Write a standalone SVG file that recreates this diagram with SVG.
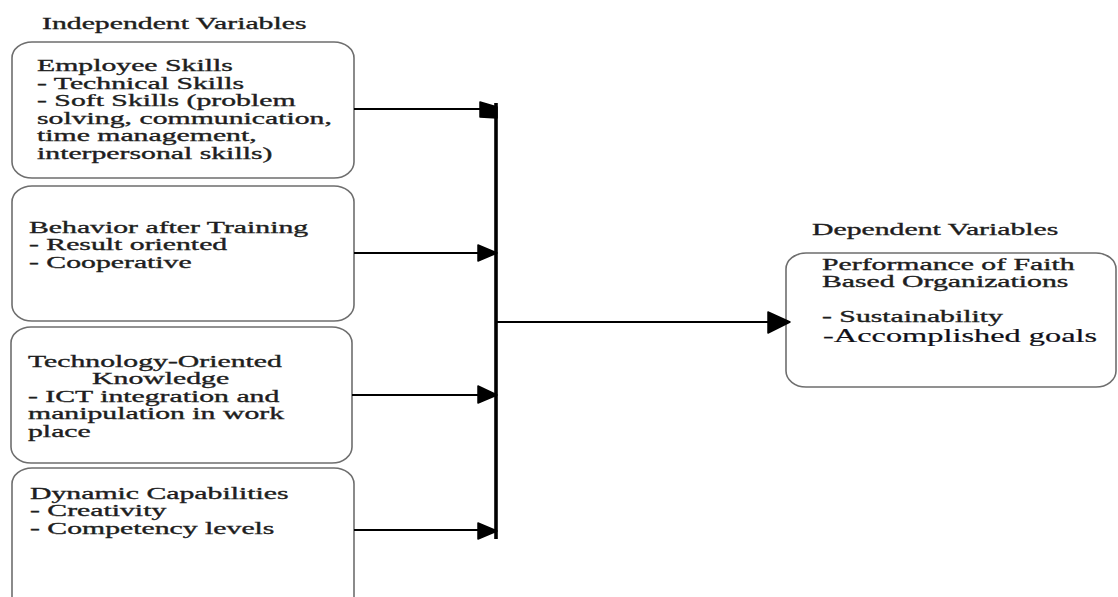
<svg xmlns="http://www.w3.org/2000/svg" width="1118" height="597" viewBox="0 0 1118 597">
<style>
.box{fill:#fff;stroke:#6e6e6e;stroke-width:1.6}
.t{font-family:"Liberation Serif","Times New Roman",serif;font-size:17px;fill:#1e1e1e;stroke:#1e1e1e;stroke-width:0.35}
.big{font-size:19.5px;fill:#101018;stroke:#101018;stroke-width:0.2}
.ln{stroke:#000;stroke-width:2.2;fill:none}
.bar{stroke:#000;stroke-width:3.6;fill:none}
.ah{fill:#000;stroke:#000;stroke-width:1.5;stroke-linejoin:round}
</style>
<rect width="1118" height="597" fill="#fff"/>
<text class="t" transform="translate(42,29) scale(1.75,1)">Independent Variables</text>
<text class="t" transform="translate(812,235) scale(1.75,1)">Dependent Variables</text>

<g id="node-employee-skills">
<rect class="box" x="12" y="42" width="342" height="136" rx="20" ry="16"/>
<text class="t" transform="translate(37,71) scale(1.75,1)"><tspan x="0" y="0">Employee Skills</tspan><tspan x="0" y="17.6">- Technical Skills</tspan><tspan x="0" y="35.2">- Soft Skills (problem</tspan><tspan x="0" y="52.8">solving, communication,</tspan><tspan x="0" y="70.4">time management,</tspan><tspan x="0" y="88">interpersonal skills)</tspan></text>
</g>

<g id="node-behavior">
<rect class="box" x="12" y="186" width="342" height="135" rx="20" ry="16"/>
<text class="t" transform="translate(29,233) scale(1.75,1)"><tspan x="0" y="0">Behavior after Training</tspan><tspan x="0" y="17.5">- Result oriented</tspan><tspan x="0" y="35">- Cooperative</tspan></text>
</g>

<g id="node-technology">
<rect class="box" x="11" y="327" width="341" height="136" rx="20" ry="16"/>
<text class="t" transform="translate(28,367) scale(1.75,1)"><tspan x="0" y="0">Technology-Oriented</tspan><tspan x="36.6" y="17.5">Knowledge</tspan><tspan x="0" y="35">- ICT integration and</tspan><tspan x="0" y="52.5">manipulation in work</tspan><tspan x="0" y="70">place</tspan></text>
</g>

<g id="node-dynamic">
<rect class="box" x="12" y="468" width="342" height="145" rx="20" ry="16"/>
<text class="t" transform="translate(30,499) scale(1.75,1)"><tspan x="0" y="0">Dynamic Capabilities</tspan><tspan x="0" y="17.5">- Creativity</tspan><tspan x="0" y="35">- Competency levels</tspan></text>
</g>

<g id="node-performance">
<rect class="box" x="786" y="253" width="330" height="134" rx="20" ry="16"/>
<text class="t" transform="translate(822,270) scale(1.75,1)"><tspan x="0" y="0">Performance of Faith</tspan><tspan x="0" y="17.5">Based Organizations</tspan><tspan x="0" y="52.5">- Sustainability</tspan></text>
<text class="t big" transform="translate(823,342) scale(1.66,1)">-Accomplished goals</text>
</g>

<g id="connectors">
<line class="ln" x1="354" y1="109" x2="482" y2="109"/>
<line class="ln" x1="354" y1="253" x2="480" y2="253"/>
<line class="ln" x1="352" y1="395" x2="480" y2="395"/>
<line class="ln" x1="354" y1="530" x2="480" y2="530"/>
<line class="bar" x1="496" y1="103" x2="496" y2="539"/>
<line class="ln" x1="496" y1="322" x2="770" y2="322"/>
<polygon class="ah" points="480,102 497,107 497,118 480,117"/>
<polygon class="ah" points="478,245 497,253 478,261"/>
<polygon class="ah" points="478,386 497,395 478,403"/>
<polygon class="ah" points="478,523 497,531 478,539"/>
<polygon class="ah" points="768,312 790,322 768,333"/>
</g>
</svg>
